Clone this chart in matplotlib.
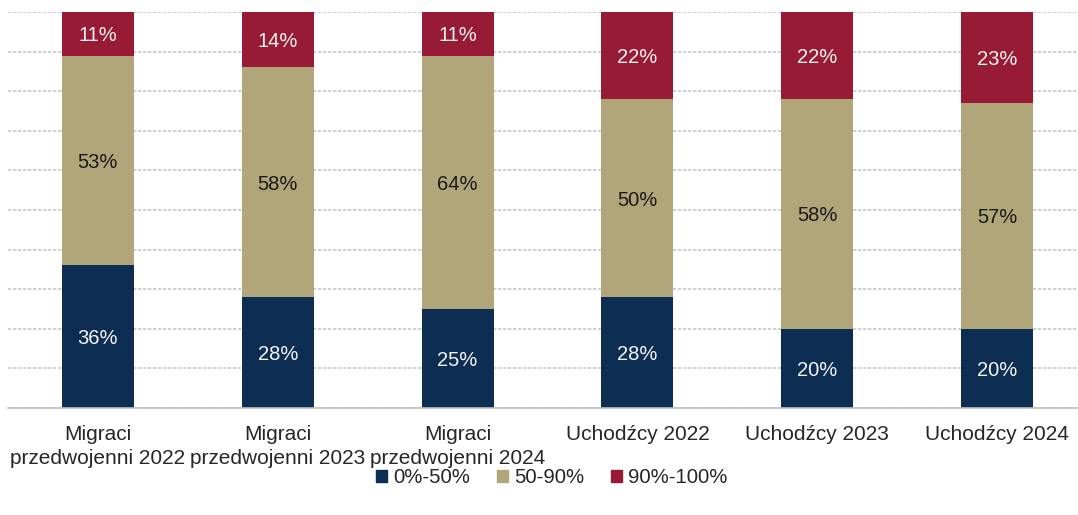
import numpy as np
import matplotlib
matplotlib.use("Agg")
import matplotlib.pyplot as plt
from matplotlib.patches import Patch

plt.rcParams['font.family'] = ['Liberation Sans', 'DejaVu Sans']

categories = ['Migraci\nprzedwojenni 2022', 'Migraci\nprzedwojenni 2023', 'Migraci\nprzedwojenni 2024',
              'Uchodźcy 2022', 'Uchodźcy 2023', 'Uchodźcy 2024']
low = [36, 28, 25, 28, 20, 20]
mid = [53, 58, 64, 50, 58, 57]
high = [11, 14, 11, 22, 22, 23]
series_names = ['0%-50%', '50-90%', '90%-100%']
colors = ['#0E2D52', '#B1A57A', '#981B36']
text_colors = ['#F4F4F4', '#1A1A1A', '#F4F4F4']

fig = plt.figure(figsize=(10.78, 5.15), dpi=100)
# plot area runs a little past the right edge of the picture
ax = fig.add_axes([0.0074, 0.2078, 1.001, 0.7689])

x = np.arange(len(categories))
bottom = np.zeros(len(categories))
for vals, name, col, tcol in zip([low, mid, high], series_names, colors, text_colors):
    vals = np.array(vals, dtype=float)
    ax.bar(x, vals, width=0.4, bottom=bottom, color=col, label=name, zorder=2)
    for xi, b, v in zip(x, bottom, vals):
        ax.text(xi, b + v / 2, f'{int(v)}%', ha='center', va='center_baseline', color=tcol,
                fontsize=14.5, zorder=3)
    bottom += vals

ax.set_xlim(-0.5, len(categories) - 0.5)
ax.set_ylim(0, 100)
ax.set_yticks(np.arange(0, 101, 10))
ax.yaxis.grid(True, color='#C8C8C8', linewidth=1.2, linestyle=(0, (2, 1)), zorder=0)
ax.tick_params(axis='y', left=False, labelleft=False)
ax.tick_params(axis='x', bottom=False, labelsize=15, pad=9, labelcolor='#262626')
ax.set_xticks(x)
ax.set_xticklabels(categories, linespacing=1.3)
for s in ['top', 'right', 'left']:
    ax.spines[s].set_visible(False)
ax.spines['bottom'].set_color('#BFBFBF')
ax.spines['bottom'].set_linewidth(1.2)

handles = [Patch(color=c) for c in colors]
fig.legend(handles, series_names, loc='center', bbox_to_anchor=(0.512, 0.072), ncol=3,
           frameon=False, fontsize=14.7, handlelength=0.55, handleheight=0.55,
           handletextpad=0.3, columnspacing=1.3, labelcolor='#262626')

fig.savefig('out.png', dpi=100)
